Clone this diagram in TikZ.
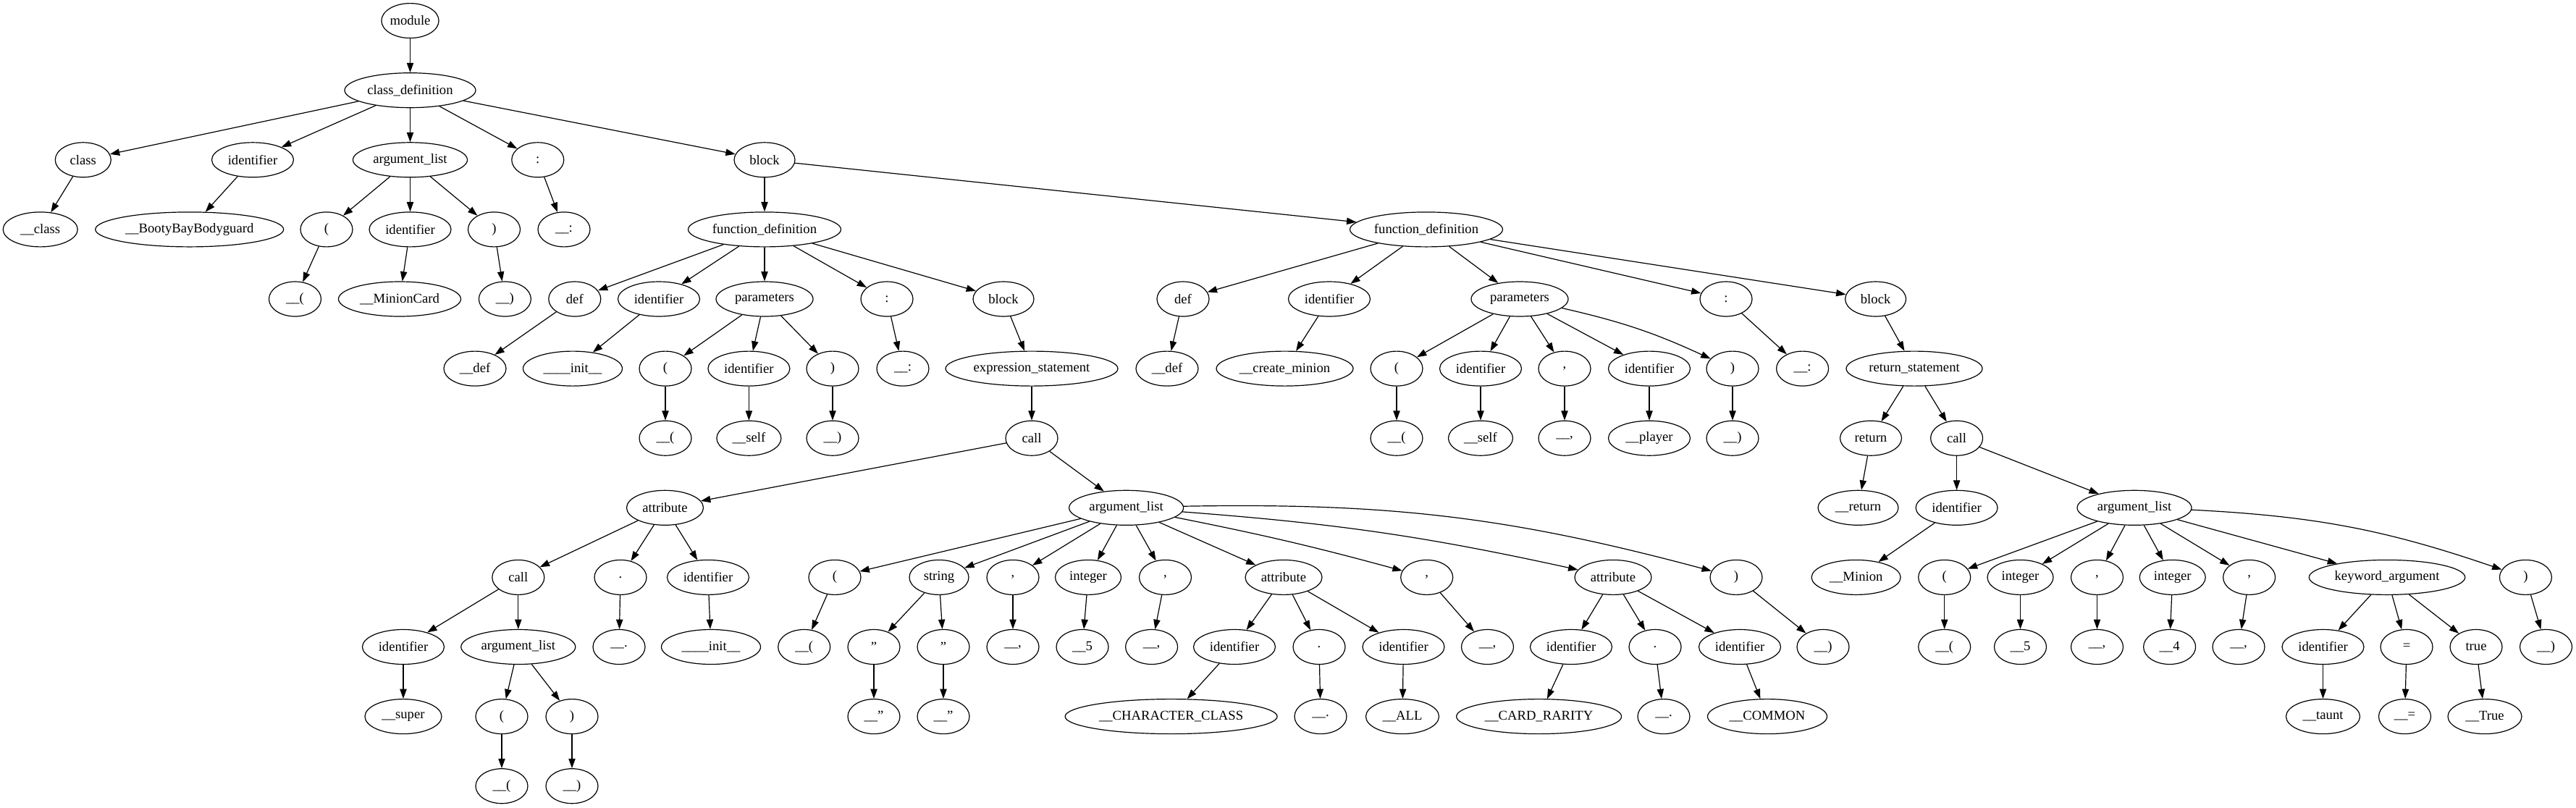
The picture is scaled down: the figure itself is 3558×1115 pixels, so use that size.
\documentclass[tikz,border=0pt]{standalone}
\usepackage{fontspec}
\setmainfont{Liberation Serif}
\usetikzlibrary{arrows.meta,shapes.geometric}
\tikzset{
  nd/.style={draw, ellipse, line width=0.9pt, minimum height=36pt, minimum width=54pt, inner sep=0pt, font=\fontsize{14pt}{16pt}\selectfont},
  wd/.style={minimum width=#1*0.75pt},
  edge/.style={line width=0.9pt, -{Triangle[length=10pt,width=7pt]}}
}
\begin{document}
\begin{tikzpicture}[x=0.75pt,y=-0.75pt]
\useasboundingbox (0,0) rectangle (3558,1115);
% L0-L1
\node[nd] (module) at (566.5,28.6) {module};
\node[nd,wd=181] (cdef) at (566.5,124.7) {class\_definition};
% L2
\node[nd,wd=77] (cls) at (114.8,220.8) {class};
\node[nd,wd=113] (cid) at (349,220.8) {identifier};
\node[nd,wd=158] (carg) at (566.5,220.8) {argument\_list};
\node[nd] (ccol) at (742.8,220.8) {:};
\node[nd,wd=84] (blk) at (1056,220.8) {block};
% L3
\node[nd,wd=103] (clsl) at (55.7,316.9) {\_\_class};
\node[nd,wd=260] (cidl) at (261.7,316.9) {\_\_BootyBayBodyguard};
\node[nd] (carglp) at (451,316.9) {(};
\node[nd,wd=113] (cargid) at (566.5,316.9) {identifier};
\node[nd] (cargrp) at (682.5,316.9) {)};
\node[nd] (ccoll) at (779,316.9) {\_\_:};
\node[nd,wd=211] (f1) at (1056,316.9) {function\_definition};
\node[nd,wd=211] (f2) at (1970,316.9) {function\_definition};
% L4
\node[nd] (carglpl) at (407.5,413) {\_\_(};
\node[nd,wd=169] (cargidl) at (552,413) {\_\_MinionCard};
\node[nd] (cargrpl) at (697.4,413) {\_\_)};
\node[nd] (f1def) at (793.8,413) {def};
\node[nd,wd=113] (f1id) at (910,413) {identifier};
\node[nd,wd=134] (f1par) at (1056,413) {parameters};
\node[nd] (f1col) at (1225,413) {:};
\node[nd,wd=84] (f1blk) at (1386,413) {block};
\node[nd] (f2def) at (1634,413) {def};
\node[nd,wd=113] (f2id) at (1836,413) {identifier};
\node[nd,wd=134] (f2par) at (2099,413) {parameters};
\node[nd] (f2col) at (2384,413) {:};
\node[nd,wd=84] (f2blk) at (2590.6,413) {block};
% L5
\node[nd,wd=86] (f1defl) at (656,509.1) {\_\_def};
\node[nd,wd=137] (f1idl) at (791,509.1) {\_\_\_\_init\_\_};
\node[nd] (f1lp) at (919,509.1) {(};
\node[nd,wd=113] (f1pid) at (1034.4,509.1) {identifier};
\node[nd] (f1rp) at (1150,509.1) {)};
\node[nd] (f1coll) at (1247,509.1) {\_\_:};
\node[nd,wd=238] (f1es) at (1425,509.1) {expression\_statement};
\node[nd,wd=86] (f2defl) at (1612,509.1) {\_\_def};
\node[nd,wd=189] (f2idl) at (1774.5,509.1) {\_\_create\_minion};
\node[nd] (f2lp) at (1929,509.1) {(};
\node[nd,wd=113] (f2pid1) at (2045,509.1) {identifier};
\node[nd] (f2cm) at (2161,509.1) {,};
\node[nd,wd=113] (f2pid2) at (2278,509.1) {identifier};
\node[nd] (f2rp) at (2393,509.1) {)};
\node[nd] (f2coll) at (2489.6,509.1) {\_\_:};
\node[nd,wd=188] (f2rs) at (2644,509.1) {return\_statement};
% L6
\node[nd] (f1lpl) at (919,605.2) {\_\_(};
\node[nd,wd=89] (f1pidl) at (1034.4,605.2) {\_\_self};
\node[nd] (f1rpl) at (1150,605.2) {\_\_)};
\node[nd] (call1) at (1425,605.2) {call};
\node[nd] (f2lpl) at (1929,605.2) {\_\_(};
\node[nd,wd=89] (f2pid1l) at (2045,605.2) {\_\_self};
\node[nd] (f2cml) at (2161,605.2) {\_\_,};
\node[nd,wd=113] (f2pid2l) at (2278,605.2) {\_\_player};
\node[nd] (f2rpl) at (2393,605.2) {\_\_)};
\node[nd,wd=85] (ret) at (2584,605.2) {return};
\node[nd] (call2) at (2702.6,605.2) {call};
% L7
\node[nd,wd=106] (attr1) at (918.5,701.3) {attribute};
\node[nd,wd=158] (al1) at (1555.6,701.3) {argument\_list};
\node[nd,wd=111] (retl) at (2566.5,701.3) {\_\_return};
\node[nd,wd=113] (c2id) at (2702.6,701.3) {identifier};
\node[nd,wd=158] (al2) at (2948,701.3) {argument\_list};
% L8
\node[nd] (a1call) at (715.8,797.4) {call};
\node[nd] (a1dot) at (857,797.4) {.};
\node[nd,wd=113] (a1id) at (978,797.4) {identifier};
\node[nd] (al1lp) at (1153,797.4) {(};
\node[nd,wd=82] (al1str) at (1297,797.4) {string};
\node[nd] (al1c1) at (1399,797.4) {,};
\node[nd,wd=91] (al1int) at (1503,797.4) {integer};
\node[nd] (al1c2) at (1609.5,797.4) {,};
\node[nd,wd=106] (al1at1) at (1773,797.4) {attribute};
\node[nd] (al1c3) at (1970.7,797.4) {,};
\node[nd,wd=106] (al1at2) at (2228,797.4) {attribute};
\node[nd] (al1rp) at (2398,797.4) {)};
\node[nd,wd=123] (c2idl) at (2563.6,797.4) {\_\_Minion};
\node[nd] (al2lp) at (2685.7,797.4) {(};
\node[nd,wd=91] (al2i1) at (2790.5,797.4) {integer};
\node[nd] (al2c1) at (2896.5,797.4) {,};
\node[nd,wd=91] (al2i2) at (3000.7,797.4) {integer};
\node[nd] (al2c2) at (3106.6,797.4) {,};
\node[nd,wd=215.5] (al2kw) at (3297,797.4) {keyword\_argument};
\node[nd] (al2rp) at (3488.4,797.4) {)};
% L9
\node[nd,wd=113] (a1cid) at (557,893.5) {identifier};
\node[nd,wd=158] (a1cal) at (715.8,893.5) {argument\_list};
\node[nd] (a1dotl) at (855,893.5) {\_\_.};
\node[nd,wd=137] (a1idl) at (982,893.5) {\_\_\_\_init\_\_};
\node[nd] (al1lpl) at (1110.7,893.5) {\_\_(};
\node[nd] (s1) at (1207,893.5) {"};
\node[nd] (s2) at (1303,893.5) {"};
\node[nd] (al1c1l) at (1399,893.5) {\_\_,};
\node[nd] (al1intl) at (1495,893.5) {\_\_5};
\node[nd] (al1c2l) at (1590.6,893.5) {\_\_,};
\node[nd,wd=113] (at1id) at (1705,893.5) {identifier};
\node[nd] (at1dot) at (1822,893.5) {.};
\node[nd,wd=113] (at1id2) at (1938.5,893.5) {identifier};
\node[nd] (al1c3l) at (2054.5,893.5) {\_\_,};
\node[nd,wd=113] (at2id) at (2170,893.5) {identifier};
\node[nd] (at2dot) at (2286,893.5) {.};
\node[nd,wd=113] (at2id2) at (2403,893.5) {identifier};
\node[nd] (al1rpl) at (2518,893.5) {\_\_)};
\node[nd] (al2lpl) at (2685.7,893.5) {\_\_(};
\node[nd] (al2i1l) at (2790.5,893.5) {\_\_5};
\node[nd] (al2c1l) at (2896.5,893.5) {\_\_,};
\node[nd] (al2i2l) at (2996.6,893.5) {\_\_4};
\node[nd] (al2c2l) at (3092,893.5) {\_\_,};
\node[nd,wd=113] (kwid) at (3208.5,893.5) {identifier};
\node[nd] (kweq) at (3324,893.5) {=};
\node[nd] (kwtrue) at (3420,893.5) {true};
\node[nd] (al2rpl) at (3516.5,893.5) {\_\_)};
% L10
\node[nd,wd=106] (a1cidl) at (557,989.6) {\_\_super};
\node[nd] (a1clp) at (693,989.6) {(};
\node[nd] (a1crp) at (790,989.6) {)};
\node[nd] (s1l) at (1207,989.6) {\_\_"};
\node[nd] (s2l) at (1303,989.6) {\_\_"};
\node[nd,wd=293] (at1idl) at (1617.6,989.6) {\_\_CHARACTER\_CLASS};
\node[nd] (at1dotl) at (1824,989.6) {\_\_.};
\node[nd,wd=101] (at1id2l) at (1937,989.6) {\_\_ALL};
\node[nd,wd=228] (at2idl) at (2125.6,989.6) {\_\_CARD\_RARITY};
\node[nd] (at2dotl) at (2298,989.6) {\_\_.};
\node[nd,wd=165] (at2id2l) at (2441,989.6) {\_\_COMMON};
\node[nd,wd=102] (kwidl) at (3208.5,989.6) {\_\_taunt};
\node[nd] (kweql) at (3321.5,989.6) {\_\_=};
\node[nd,wd=102] (kwtruel) at (3432,989.6) {\_\_True};
% L11
\node[nd] (a1clpl) at (693,1085.7) {\_\_(};
\node[nd] (a1crpl) at (790,1085.7) {\_\_)};
% edges
\foreach \a/\b/\bb in {
 module/cdef/0, cdef/cls/0, cdef/cid/0, cdef/carg/0, cdef/ccol/0, cdef/blk/0,
 cls/clsl/0, cid/cidl/0, carg/carglp/0, carg/cargid/0, carg/cargrp/0, ccol/ccoll/0,
 carglp/carglpl/0, cargid/cargidl/0, cargrp/cargrpl/0,
 blk/f1/0, blk/f2/0,
 f1/f1def/0, f1/f1id/0, f1/f1par/0, f1/f1col/0, f1/f1blk/0,
 f1def/f1defl/0, f1id/f1idl/0, f1par/f1lp/0, f1par/f1pid/0, f1par/f1rp/0, f1col/f1coll/0, f1blk/f1es/0,
 f1lp/f1lpl/0, f1pid/f1pidl/0, f1rp/f1rpl/0, f1es/call1/0,
 call1/attr1/0, call1/al1/0,
 attr1/a1call/0, attr1/a1dot/0, attr1/a1id/0,
 a1call/a1cid/0, a1call/a1cal/0, a1dot/a1dotl/0, a1id/a1idl/0,
 a1cid/a1cidl/0, a1cal/a1clp/0, a1cal/a1crp/0, a1clp/a1clpl/0, a1crp/a1crpl/0,
 al1/al1lp/0, al1/al1str/0, al1/al1c1/0, al1/al1int/0, al1/al1c2/0, al1/al1at1/0, al1/al1c3/2, al1/al1at2/4, al1/al1rp/8,
 al1lp/al1lpl/0, al1str/s1/0, al1str/s2/0, s1/s1l/0, s2/s2l/0, al1c1/al1c1l/0, al1int/al1intl/0, al1c2/al1c2l/0,
 al1at1/at1id/0, al1at1/at1dot/0, al1at1/at1id2/0, at1id/at1idl/0, at1dot/at1dotl/0, at1id2/at1id2l/0,
 al1c3/al1c3l/0,
 al1at2/at2id/0, al1at2/at2dot/0, al1at2/at2id2/0, at2id/at2idl/0, at2dot/at2dotl/0, at2id2/at2id2l/0,
 al1rp/al1rpl/0,
 f2/f2def/0, f2/f2id/0, f2/f2par/0, f2/f2col/0, f2/f2blk/0,
 f2def/f2defl/0, f2id/f2idl/0, f2par/f2lp/0, f2par/f2pid1/0, f2par/f2cm/0, f2par/f2pid2/0, f2par/f2rp/6,
 f2lp/f2lpl/0, f2pid1/f2pid1l/0, f2cm/f2cml/0, f2pid2/f2pid2l/0, f2rp/f2rpl/0,
 f2col/f2coll/0, f2blk/f2rs/0,
 f2rs/ret/0, f2rs/call2/0, ret/retl/0, call2/c2id/0, call2/al2/0, c2id/c2idl/0,
 al2/al2lp/0, al2/al2i1/0, al2/al2c1/0, al2/al2i2/0, al2/al2c2/0, al2/al2kw/0, al2/al2rp/8,
 al2lp/al2lpl/0, al2i1/al2i1l/0, al2c1/al2c1l/0, al2i2/al2i2l/0, al2c2/al2c2l/0, al2rp/al2rpl/0,
 al2kw/kwid/0, al2kw/kweq/0, al2kw/kwtrue/0, kwid/kwidl/0, kweq/kweql/0, kwtrue/kwtruel/0}
 \draw[edge] (\a) to[bend left=\bb] (\b);
\end{tikzpicture}
\end{document}
